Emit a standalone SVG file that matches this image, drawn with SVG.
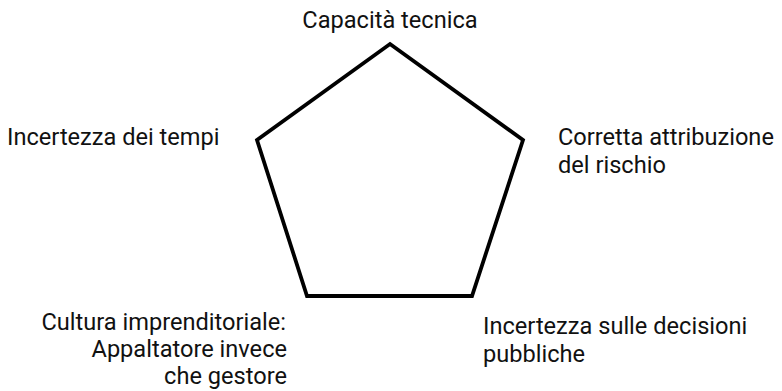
<svg xmlns="http://www.w3.org/2000/svg" width="782" height="391" viewBox="0 0 782 391">
<style>
text{font-family:Roboto,"Liberation Sans",sans-serif;font-size:23.6px;fill:#111}
.shape{fill:#fff;stroke:#000;stroke-width:3.8;stroke-linejoin:miter}
</style>
<rect width="782" height="391" fill="#fff"/>
<g id="pentagon"><polygon class="shape" points="390,44 523,140 472,296 307,296 257,140"/></g>
<g id="label-top"><text x="390" y="28" text-anchor="middle">Capacità tecnica</text></g>
<g id="label-left"><text x="7" y="145">Incertezza dei tempi</text></g>
<g id="label-right"><text x="558" y="145">Corretta attribuzione</text><text x="558" y="173">del rischio</text></g>
<g id="label-bottom-right"><text x="483" y="334">Incertezza sulle decisioni</text><text x="483" y="362">pubbliche</text></g>
<g id="label-bottom-left"><text x="286" y="330" text-anchor="end">Cultura imprenditoriale:</text><text x="287" y="357" text-anchor="end">Appaltatore invece</text><text x="287" y="384" text-anchor="end">che gestore</text></g>
<g id="connectors"/>
</svg>
